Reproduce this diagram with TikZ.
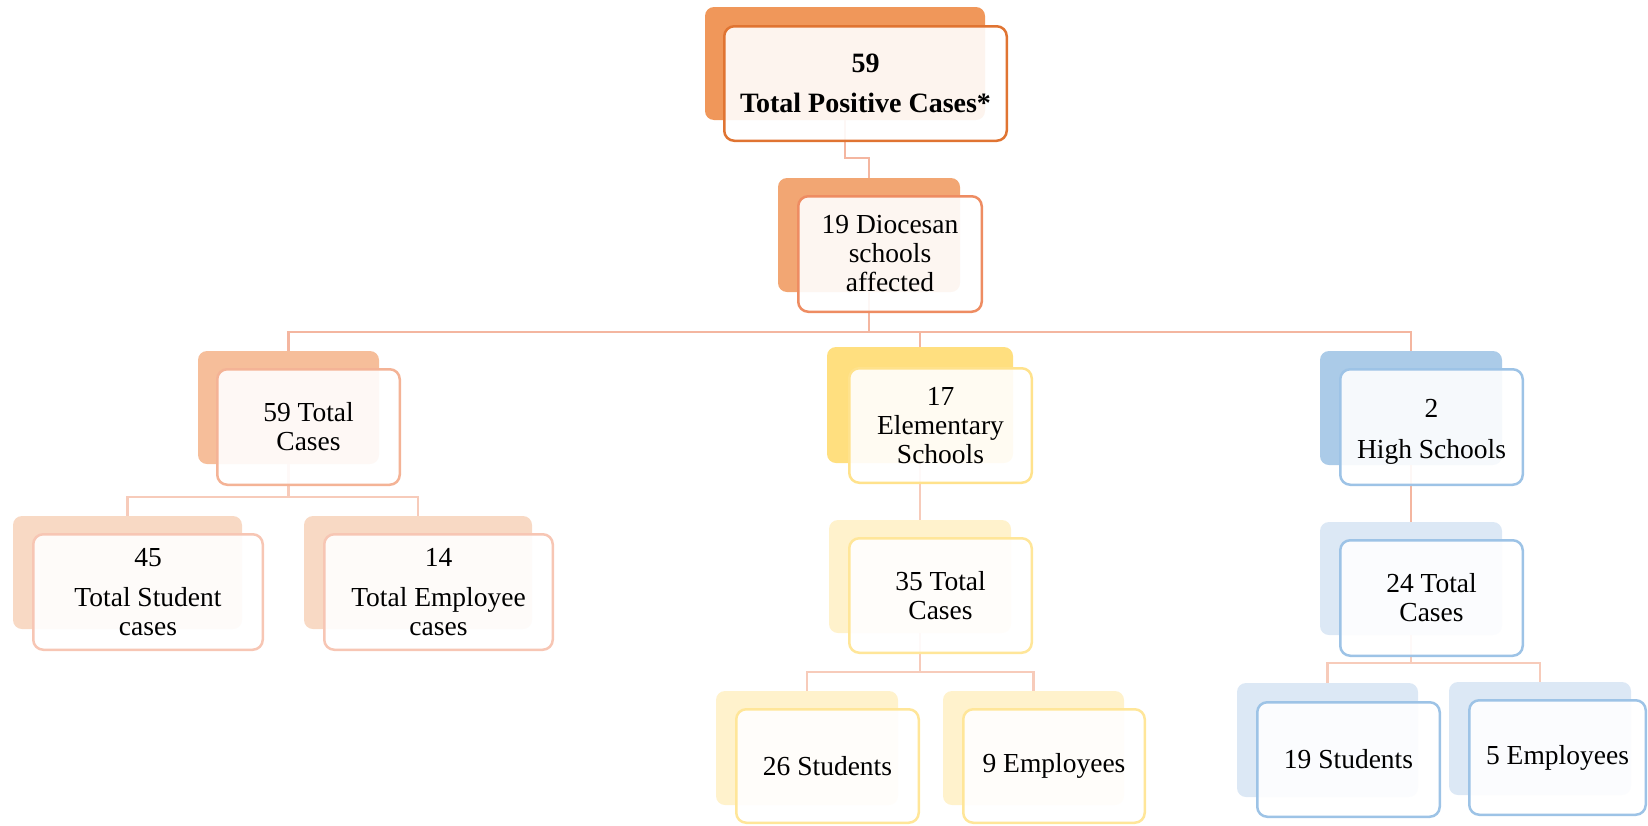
\documentclass[tikz,border=0pt]{standalone}
\usepackage{fontspec}
\setmainfont{Liberation Serif}
\definecolor{topB}{HTML}{F0975A}\definecolor{topL}{HTML}{E07432}
\definecolor{dioB}{HTML}{F2A673}\definecolor{dioL}{HTML}{EE8C62}
\definecolor{lthB}{HTML}{F6BE9A}\definecolor{lthL}{HTML}{F4B396}
\definecolor{lfoB}{HTML}{F8D9C4}\definecolor{lfoL}{HTML}{F7C6B4}
\definecolor{elB}{HTML}{FFDF7F}\definecolor{elL}{HTML}{FFE28C}
\definecolor{elsB}{HTML}{FFF2CC}\definecolor{elsL}{HTML}{FFE699}
\definecolor{hsB}{HTML}{ABCBE8}\definecolor{hsL}{HTML}{9DC3E6}
\definecolor{hssB}{HTML}{DCE8F5}\definecolor{hssL}{HTML}{9DC3E6}
\definecolor{conA}{HTML}{F4B6A0}\definecolor{conB}{HTML}{F7CBBA}
\begin{document}
\begin{tikzpicture}[x=1pt,y=-1pt,
  backbox/.style={rectangle,rounded corners=9pt,inner sep=0pt,draw=none},
  frontbox/.style={rectangle,draw,rounded corners=10pt,line width=2.5pt,fill=white,fill opacity=0.9,text opacity=1,align=center,inner sep=0pt,font=\fontsize{27.5}{29}\selectfont},
  conn/.style={line width=2.5pt}]
\useasboundingbox (0,0) rectangle (1648,825);
% back boxes
\node[backbox,fill=topB,minimum width=280pt,minimum height=113pt] (tb) at (845,63.5) {};
\node[backbox,fill=dioB,minimum width=182pt,minimum height=114pt] (db) at (869,235) {};
\node[backbox,fill=lthB,minimum width=181pt,minimum height=113pt] (lb) at (288.5,407.5) {};
\node[backbox,fill=elB,minimum width=186pt,minimum height=116pt] (eb) at (920,405) {};
\node[backbox,fill=hsB,minimum width=182pt,minimum height=114pt] (hb) at (1411,408) {};
\node[backbox,fill=lfoB,minimum width=229pt,minimum height=113pt] (sb) at (127.5,572.5) {};
\node[backbox,fill=lfoB,minimum width=228pt,minimum height=113pt] (mb) at (418,572.5) {};
\node[backbox,fill=elsB,minimum width=182pt,minimum height=113pt] (e35b) at (920,576.5) {};
\node[backbox,fill=hssB,minimum width=182pt,minimum height=113pt] (h24b) at (1411,578.5) {};
\node[backbox,fill=elsB,minimum width=182pt,minimum height=114pt] (e26b) at (807,748) {};
\node[backbox,fill=elsB,minimum width=181pt,minimum height=114pt] (e9b) at (1033.5,748) {};
\node[backbox,fill=hssB,minimum width=181pt,minimum height=114pt] (h19b) at (1327.5,740) {};
\node[backbox,fill=hssB,minimum width=182pt,minimum height=113pt] (h5b) at (1540,738.5) {};
% bus coordinates
\coordinate (bus1) at (0,158);
\coordinate (bus2) at (0,332);
\coordinate (bus3) at (0,497);
\coordinate (bus4) at (0,672);
\coordinate (bus5) at (0,663);
% connectors
\draw[conn,conA] (tb.south) -- (tb.south |- bus1) -| (db.north);
\draw[conn,conA] (db.south) -- (db.south |- bus2) -| (lb.north);
\draw[conn,conA] (db.south |- bus2) -| (eb.north);
\draw[conn,conA] (db.south |- bus2) -| (hb.north);
\draw[conn,conB] (lb.south) -- (lb.south |- bus3) -| (sb.north);
\draw[conn,conB] (lb.south |- bus3) -| (mb.north);
\draw[conn,conB] (eb.south) -- (e35b.north);
\draw[conn,conA] (hb.south) -- (h24b.north);
\draw[conn,conB] (e35b.south) -- (e35b.south |- bus4) -| (e26b.north);
\draw[conn,conB] (e35b.south |- bus4) -| (e9b.north);
\draw[conn,conB] (h24b.south) -- (h24b.south |- bus5) -| (h19b.north);
\draw[conn,conB] (h24b.south |- bus5) -| (h5b.north);
% front boxes
\node[frontbox,draw=topL,minimum width=282.5pt,minimum height=114.5pt,font=\fontsize{28}{29}\selectfont\bfseries] (tf) at (865.5,83.5) {59\\[11pt]Total Positive Cases*};
\node[frontbox,draw=dioL,minimum width=183.5pt,minimum height=115.5pt] (df) at (890,254) {19 Diocesan\\schools\\affected};
\node[frontbox,draw=lthL,minimum width=182.5pt,minimum height=115.5pt] (lf) at (308.5,427) {59 Total\\Cases};
\node[frontbox,draw=elL,minimum width=182.5pt,minimum height=114.5pt] (ef) at (940.5,425.5) {17\\Elementary\\Schools};
\node[frontbox,draw=hsL,minimum width=182.5pt,minimum height=115.5pt] (hf) at (1431.5,427) {\rule{0pt}{0pt}\\[-2pt]2\\[12pt]High Schools};
\node[frontbox,draw=lfoL,minimum width=229.5pt,minimum height=115.5pt] (sf) at (148,592) {45\\[11pt]Total Student\\cases};
\node[frontbox,draw=lfoL,minimum width=228.5pt,minimum height=115.5pt] (mf) at (438.5,592) {14\\[11pt]Total Employee\\cases};
\node[frontbox,draw=elsL,minimum width=182.5pt,minimum height=114.5pt] (e35f) at (940.5,595.5) {35 Total\\Cases};
\node[frontbox,draw=hssL,minimum width=182.5pt,minimum height=115.5pt] (h24f) at (1431.5,598) {24 Total\\Cases};
\node[frontbox,draw=elsL,minimum width=182.5pt,minimum height=113.5pt] (e26f) at (827.5,766) {26 Students};
\node[frontbox,draw=elsL,minimum width=181.5pt,minimum height=113.5pt] (e9f) at (1054,766) {9 Employees};
\node[frontbox,draw=hssL,minimum width=182.5pt,minimum height=114.5pt] (h19f) at (1348.5,759.5) {19 Students};
\node[frontbox,draw=hssL,minimum width=176.5pt,minimum height=114.5pt] (h5f) at (1557.5,757.5) {5 Employees};
\end{tikzpicture}
\end{document}
